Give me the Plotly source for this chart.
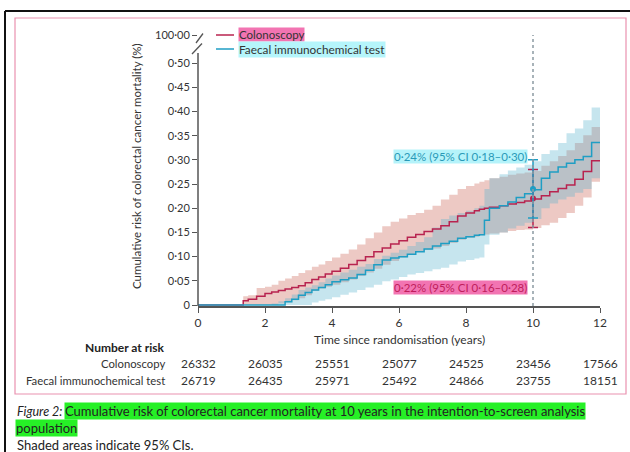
import plotly.graph_objects as go

# ---------------- data ----------------
time = [0, 1.35, 1.5, 1.75, 2.0, 2.2, 2.4, 2.6, 2.8, 3.0, 3.2, 3.4, 3.6, 3.8, 4.0,
        4.25, 4.5, 4.75, 5.0, 5.25, 5.5, 5.75, 6.0, 6.25, 6.5, 6.75, 7.0, 7.25, 7.5,
        7.75, 8.0, 8.25, 8.4, 8.55, 8.7, 9.0, 9.25, 9.5, 9.75, 10.0, 10.25, 10.5,
        10.75, 11.0, 11.25, 11.5, 11.75, 12.0]

colon_est = [0, 0.009, 0.012, 0.018, 0.024, 0.027, 0.030, 0.033, 0.036, 0.040, 0.046,
             0.053, 0.058, 0.064, 0.070, 0.076, 0.084, 0.092, 0.100, 0.110, 0.118,
             0.126, 0.133, 0.140, 0.146, 0.152, 0.157, 0.164, 0.172, 0.184, 0.190,
             0.195, 0.198, 0.200, 0.202, 0.205, 0.209, 0.212, 0.215, 0.219, 0.226,
             0.234, 0.241, 0.248, 0.260, 0.276, 0.298, 0.298]
colon_hi = [0, 0.018, 0.020, 0.035, 0.038, 0.042, 0.050, 0.055, 0.060, 0.066, 0.072,
            0.079, 0.084, 0.091, 0.098, 0.106, 0.115, 0.125, 0.138, 0.150, 0.163,
            0.172, 0.179, 0.186, 0.190, 0.197, 0.205, 0.218, 0.228, 0.240, 0.246,
            0.251, 0.255, 0.258, 0.262, 0.265, 0.269, 0.272, 0.274, 0.277, 0.288,
            0.297, 0.308, 0.320, 0.335, 0.351, 0.368, 0.368]
colon_lo = [0, 0, 0, 0, 0, 0, 0.003, 0.006, 0.010, 0.014, 0.020, 0.029, 0.034, 0.038,
            0.042, 0.047, 0.053, 0.060, 0.067, 0.075, 0.083, 0.091, 0.098, 0.104,
            0.110, 0.114, 0.117, 0.122, 0.128, 0.135, 0.139, 0.141, 0.144, 0.146,
            0.148, 0.150, 0.153, 0.155, 0.156, 0.159, 0.165, 0.170, 0.180, 0.190,
            0.205, 0.222, 0.255, 0.255]

fit_est = [0, 0, 0, 0, 0, 0, 0, 0.007, 0.012, 0.020, 0.026, 0.031, 0.036, 0.042, 0.048,
           0.052, 0.056, 0.063, 0.072, 0.083, 0.093, 0.097, 0.100, 0.105, 0.110, 0.116,
           0.122, 0.127, 0.132, 0.138, 0.141, 0.144, 0.145, 0.175, 0.200, 0.205, 0.213,
           0.222, 0.230, 0.238, 0.262, 0.275, 0.285, 0.293, 0.300, 0.307, 0.336, 0.336]
fit_hi = [0, 0, 0, 0, 0, 0.003, 0.008, 0.014, 0.022, 0.031, 0.036, 0.041, 0.047, 0.055,
          0.061, 0.067, 0.073, 0.079, 0.085, 0.095, 0.102, 0.108, 0.114, 0.122, 0.130,
          0.140, 0.160, 0.178, 0.185, 0.190, 0.195, 0.200, 0.205, 0.240, 0.262, 0.270,
          0.278, 0.284, 0.290, 0.297, 0.312, 0.320, 0.335, 0.355, 0.365, 0.382, 0.408,
          0.408]
fit_lo = [0, 0, 0, 0, 0, 0, 0, 0, 0, 0, 0, 0.005, 0.009, 0.012, 0.016, 0.021, 0.026,
          0.031, 0.036, 0.042, 0.049, 0.053, 0.058, 0.063, 0.066, 0.070, 0.074, 0.077,
          0.084, 0.090, 0.093, 0.096, 0.098, 0.125, 0.145, 0.150, 0.158, 0.164, 0.170,
          0.178, 0.200, 0.210, 0.218, 0.224, 0.232, 0.240, 0.262, 0.262]

series_names = ["Colonoscopy", "Faecal immunochemical test"]
year10_est = [0.22, 0.24]
year10_lo = [0.16, 0.18]
year10_hi = [0.28, 0.30]
year10_labels = ["0·22% (95% CI 0·16–0·28)", "0·24% (95% CI 0·18–0·30)"]

y_tickvals = [0, 0.05, 0.10, 0.15, 0.20, 0.25, 0.30, 0.35, 0.40, 0.45, 0.50, 0.558]
y_ticktext = ["0", "0·05", "0·10", "0·15", "0·20", "0·25", "0·30", "0·35", "0·40",
              "0·45", "0·50", "100·00"]
x_tickvals = [0, 2, 4, 6, 8, 10, 12]

risk_times = [0, 2, 4, 6, 8, 10, 12]
risk_colon = ["26332", "26035", "25551", "25077", "24525", "23456", "17566"]
risk_fit = ["26719", "26435", "25971", "25492", "24866", "23755", "18151"]

# ---------------- geometry helpers ----------------
W, H = 630, 452
L, R, T, B = 198, 30, 35, 146
pw, ph = W - L - R, H - T - B
YMIN, YMAX = -0.002, 0.558


def px_x(px):
    return (px - L) / pw


def px_y(py):
    return (H - B - py) / ph


RED = "#b8234f"
BLUE = "#1f9ec4"
RED_BAND = "rgba(206,106,92,0.36)"
BLUE_BAND = "rgba(89,178,206,0.34)"
FONT = "Lato"

fig = go.Figure()

# bands
fig.add_trace(go.Scatter(x=time, y=colon_lo, mode="lines", line=dict(width=0, shape="hv"),
                         hoverinfo="skip", showlegend=False))
fig.add_trace(go.Scatter(x=time, y=colon_hi, mode="lines", line=dict(width=0, shape="hv"),
                         fill="tonexty", fillcolor=RED_BAND, hoverinfo="skip", showlegend=False))
fig.add_trace(go.Scatter(x=time, y=fit_lo, mode="lines", line=dict(width=0, shape="hv"),
                         hoverinfo="skip", showlegend=False))
fig.add_trace(go.Scatter(x=time, y=fit_hi, mode="lines", line=dict(width=0, shape="hv"),
                         fill="tonexty", fillcolor=BLUE_BAND, hoverinfo="skip", showlegend=False))

# curves
fig.add_trace(go.Scatter(x=time, y=colon_est, mode="lines", name=series_names[0],
                         line=dict(color=RED, width=1.5, shape="hv"), showlegend=False))
fig.add_trace(go.Scatter(x=time, y=fit_est, mode="lines", name=series_names[1],
                         line=dict(color=BLUE, width=1.5, shape="hv"), showlegend=False))

# 10-year estimates with CI
for i, col in enumerate([RED, BLUE]):
    fig.add_trace(go.Scatter(
        x=[10], y=[year10_est[i]], mode="markers",
        marker=dict(color=col, size=6),
        error_y=dict(type="data", symmetric=False,
                     array=[year10_hi[i] - year10_est[i]],
                     arrayminus=[year10_est[i] - year10_lo[i]],
                     color=col, thickness=1.5, width=5),
        showlegend=False, cliponaxis=False))

shapes = []
# frame
shapes.append(dict(type="line", xref="paper", yref="paper", x0=px_x(5), x1=px_x(630),
                   y0=px_y(11), y1=px_y(11), line=dict(color="#111", width=2)))
shapes.append(dict(type="line", xref="paper", yref="paper", x0=px_x(5), x1=px_x(5),
                   y0=px_y(11), y1=px_y(452), line=dict(color="#111", width=2)))
shapes.append(dict(type="rect", xref="paper", yref="paper", x0=px_x(15), x1=px_x(626),
                   y0=px_y(18), y1=px_y(394), line=dict(color="#ea92b0", width=1.2)))
# y axis line with break
shapes.append(dict(type="line", xref="paper", yref="paper", x0=0, x1=0,
                   y0=px_y(306), y1=px_y(53), line=dict(color="#555", width=1.5)))
shapes.append(dict(type="line", xref="paper", yref="paper", x0=px_x(192), x1=px_x(202),
                   y0=px_y(54), y1=px_y(43.5), line=dict(color="#555", width=1.3)))
shapes.append(dict(type="line", xref="paper", yref="paper", x0=px_x(196), x1=px_x(203),
                   y0=px_y(43), y1=px_y(33.5), line=dict(color="#555", width=1.3)))
# dotted line at 10 years
shapes.append(dict(type="line", xref="x", yref="paper", x0=10, x1=10, y0=0, y1=1,
                   line=dict(color="#8c9aa2", width=1.5, dash="dot")))
# legend lines
shapes.append(dict(type="line", xref="paper", yref="paper", x0=px_x(216), x1=px_x(234),
                   y0=px_y(35), y1=px_y(35), line=dict(color=RED, width=1.5)))
shapes.append(dict(type="line", xref="paper", yref="paper", x0=px_x(216), x1=px_x(234),
                   y0=px_y(49), y1=px_y(49), line=dict(color=BLUE, width=1.5)))

ann = []
# legend text
ann.append(dict(text=series_names[0], xref="paper", yref="paper", x=px_x(238), y=px_y(34.5),
                xanchor="left", yanchor="middle", showarrow=False, bgcolor="#f274b2",
                borderpad=0, font=dict(family=FONT, size=11.5, color="#333")))
ann.append(dict(text=series_names[1], xref="paper", yref="paper", x=px_x(238), y=px_y(49.5),
                xanchor="left", yanchor="middle", showarrow=False, bgcolor="#b5f5fb",
                borderpad=0, font=dict(family=FONT, size=11.8, color="#333")))
# CI annotations
ann.append(dict(text=year10_labels[1], xref="paper", yref="paper", x=px_x(393), y=px_y(156),
                xanchor="left", yanchor="middle", showarrow=False, bgcolor="#b5f3fa",
                borderpad=0, font=dict(family=FONT, size=11.5, color="#2a9ab8")))
ann.append(dict(text=year10_labels[0], xref="paper", yref="paper", x=px_x(393), y=px_y(287),
                xanchor="left", yanchor="middle", showarrow=False, bgcolor="#f274b2",
                borderpad=0, font=dict(family=FONT, size=11.5, color="#c01e5c")))
# axis titles
ann.append(dict(text="Cumulative risk of colorectal cancer mortality (%)", xref="paper",
                yref="paper", x=px_x(136), y=px_y(166), textangle=-90, showarrow=False,
                xanchor="center", yanchor="middle",
                font=dict(family=FONT, size=11.5, color="#333")))
ann.append(dict(text="Time since randomisation (years)", xref="paper", yref="paper",
                x=0.5, y=px_y(339), showarrow=False, xanchor="center", yanchor="middle",
                font=dict(family=FONT, size=12, color="#333")))
# number at risk
ann.append(dict(text="<b>Number at risk</b>", xref="paper", yref="paper", x=px_x(166),
                y=px_y(347), xanchor="right", yanchor="middle", showarrow=False,
                font=dict(family=FONT, size=12, color="#222")))
for label, row, py in [(series_names[0], risk_colon, 363), (series_names[1], risk_fit, 380)]:
    ann.append(dict(text=label, xref="paper", yref="paper", x=px_x(167), y=px_y(py),
                    xanchor="right", yanchor="middle", showarrow=False,
                    font=dict(family=FONT, size=11.3, color="#333")))
    for t, v in zip(risk_times, row):
        ann.append(dict(text=v, xref="x", yref="paper", x=t, y=px_y(py),
                        xanchor="center", yanchor="middle", showarrow=False,
                        font=dict(family=FONT, size=12, color="#333")))
# caption
ann.append(dict(text="<i>Figure 2:</i>", xref="paper", yref="paper", x=px_x(15), y=px_y(411),
                xanchor="left", yanchor="middle", showarrow=False,
                font=dict(family=FONT, size=12.5, color="#222")))
ann.append(dict(text="Cumulative risk of colorectal cancer mortality at 10 years in the intention-to-screen analysis",
                xref="paper", yref="paper", x=px_x(64), y=px_y(411), xanchor="left",
                yanchor="middle", showarrow=False, bgcolor="#26f026", borderpad=0,
                font=dict(family=FONT, size=13, color="#222")))
ann.append(dict(text="population", xref="paper", yref="paper", x=px_x(15), y=px_y(428),
                xanchor="left", yanchor="middle", showarrow=False, bgcolor="#26f026",
                borderpad=0, font=dict(family=FONT, size=13, color="#222")))
ann.append(dict(text="Shaded areas indicate 95% CIs.", xref="paper", yref="paper",
                x=px_x(15), y=px_y(444.5), xanchor="left", yanchor="middle", showarrow=False,
                font=dict(family=FONT, size=13, color="#222")))

fig.update_layout(
    width=W, height=H,
    margin=dict(l=L, r=R, t=T, b=B, pad=0),
    paper_bgcolor="white", plot_bgcolor="white",
    font=dict(family=FONT, size=11, color="#333"),
    showlegend=False,
    shapes=shapes, annotations=ann,
    xaxis=dict(range=[0, 12], tickvals=x_tickvals, ticks="outside", ticklen=5,
               tickcolor="#555", tickwidth=1.3, showline=True, linecolor="#555",
               linewidth=1.5, showgrid=False, zeroline=False,
               tickfont=dict(family=FONT, size=12, color="#333")),
    yaxis=dict(range=[YMIN, YMAX], tickvals=y_tickvals, ticktext=y_ticktext,
               ticks="outside", ticklen=5, tickcolor="#555", tickwidth=1.3,
               showline=False, showgrid=False, zeroline=False,
               tickfont=dict(family=FONT, size=11, color="#333")),
)

fig.write_html("out.html", config={"displayModeBar": False},
               post_script="document.body.style.margin='0px';document.body.style.overflow='hidden';")
